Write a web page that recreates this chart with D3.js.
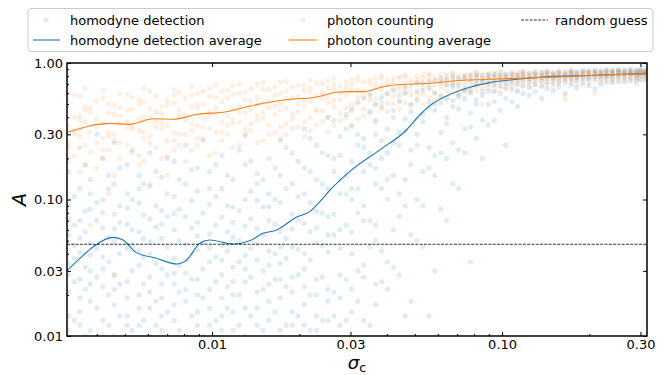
<!DOCTYPE html>
<html><head><meta charset="utf-8">
<script src="https://cdn.jsdelivr.net/npm/d3@7"></script>
<style>body{margin:0;background:#fff} svg{display:block;font-family:"DejaVu Sans",sans-serif}</style>
</head><body><svg id="c" width="667" height="375"></svg>
<script>
// ---- data ----
const sigmaGrid = [0.0032,0.0035,0.0038,0.0042,0.0046,0.0051,0.0056,0.0061,0.0067,0.0074,
  0.0081,0.0089,0.0098,0.0108,0.0118,0.013,0.0143,0.0157,0.0172,0.0189,
  0.0208,0.0229,0.0251,0.0276,0.0303,0.0333,0.0366,0.0402,0.0442,0.0485,
  0.0533,0.0586,0.0644,0.0708,0.0778,0.0855,0.094,0.103,0.113,0.124,
  0.137,0.15,0.165,0.181,0.199,0.219,0.24,0.264,0.29,0.312];
const sigmaGrid2 = [0.00335,0.00365,0.004,0.0044,0.0048,0.0053,0.0058,0.0064,0.007,0.0077,
  0.0085,0.0093,0.0103,0.0113,0.0124,0.0136,0.015,0.0165,0.018,0.0198,
  0.0218,0.024,0.0263,0.029,0.0318,0.035,0.0384,0.0422,0.0463,0.0509,
  0.056,0.0615,0.0676,0.0743,0.0816,0.0897,0.0985,0.108,0.118,0.13,
  0.143,0.157,0.173,0.19,0.209,0.229,0.252,0.277,0.3];
const homodyneA = [
 [0.011,0.014,0.021,0.028,0.034,0.055,0.072,0.09,0.16],
 [0.012,0.015,0.019,0.026,0.041,0.052,0.07,0.12,0.24],
 [0.011,0.018,0.024,0.03,0.039,0.048,0.085,0.11,0.14],
 [0.01,0.013,0.023,0.031,0.038,0.062,0.08,0.1,0.2],
 [0.01,0.017,0.022,0.028,0.05,0.061,0.078,0.13,0.26],
 [0.012,0.014,0.019,0.025,0.044,0.066,0.087,0.11,0.18],
 [0.012,0.016,0.02,0.033,0.042,0.058,0.094,0.12,0.15],
 [0.01,0.016,0.021,0.027,0.04,0.049,0.072,0.125,0.22],
 [0.011,0.014,0.019,0.024,0.031,0.052,0.066,0.083,0.145],
 [0.013,0.017,0.024,0.029,0.037,0.06,0.079,0.105,0.19],
 [0.01,0.018,0.022,0.029,0.036,0.047,0.075,0.13,0.25],
 [0.012,0.015,0.02,0.026,0.043,0.054,0.068,0.115,0.17],
 [0.012,0.016,0.022,0.035,0.044,0.056,0.092,0.12,0.16],
 [0.011,0.014,0.019,0.028,0.036,0.046,0.074,0.12,0.21],
 [0.011,0.015,0.02,0.025,0.032,0.053,0.068,0.088,0.14],
 [0.01,0.016,0.025,0.031,0.039,0.064,0.1,0.18,0.3],
 [0.012,0.016,0.021,0.036,0.047,0.061,0.098,0.13,0.155],
 [0.013,0.018,0.024,0.033,0.042,0.07,0.088,0.11,0.2],
 [0.011,0.019,0.026,0.034,0.045,0.058,0.095,0.15,0.27],
 [0.012,0.015,0.021,0.027,0.045,0.061,0.078,0.13,0.22],
 [0.012,0.017,0.023,0.031,0.04,0.067,0.11,0.17,0.33],
 [0.011,0.014,0.02,0.026,0.048,0.062,0.082,0.14,0.25],
 [0.013,0.018,0.022,0.041,0.055,0.075,0.12,0.21,0.4],
 [0.012,0.019,0.028,0.044,0.06,0.11,0.14,0.21,0.29],
 [0.015,0.022,0.04,0.058,0.1,0.12,0.19,0.35,0.45],
 [0.013,0.027,0.033,0.07,0.09,0.16,0.24,0.28,0.55],
 [0.017,0.024,0.05,0.065,0.13,0.17,0.3,0.38,0.5],
 [0.022,0.035,0.1,0.14,0.22,0.33,0.6],
 [0.028,0.075,0.11,0.25,0.31,0.52,0.58],
 [0.018,0.055,0.18,0.23,0.44,0.5,0.68],
 [0.045,0.09,0.16,0.37,0.42,0.63,0.71],
 [0.03,0.15,0.21,0.45,0.5,0.6,0.74],
 [0.07,0.2,0.36,0.4,0.55,0.7,0.76],
 [0.12,0.23,0.46,0.57,0.6,0.69,0.78],
 [0.035,0.34,0.43,0.61,0.64,0.75,0.8],
 [0.2,0.38,0.58,0.62,0.73,0.76,0.81],
 [0.38,0.52,0.62,0.69,0.74,0.79,0.82],
 [0.25,0.55,0.66,0.72,0.77,0.8,0.83],
 [0.48,0.62,0.7,0.75,0.79,0.82],
 [0.58,0.67,0.73,0.77,0.8,0.84],
 [0.55,0.68,0.74,0.78,0.81,0.84],
 [0.63,0.71,0.76,0.79,0.82,0.85],
 [0.6,0.72,0.77,0.8,0.83,0.86],
 [0.66,0.74,0.78,0.81,0.84,0.86],
 [0.68,0.75,0.79,0.82,0.85,0.87],
 [0.7,0.76,0.8,0.83,0.85,0.88],
 [0.72,0.77,0.81,0.84,0.86,0.88],
 [0.73,0.78,0.82,0.84,0.87,0.89],
 [0.74,0.79,0.82,0.85,0.87,0.89],
 [0.75,0.8,0.83,0.85,0.87,0.88]];
const homodyneA2 = [
 [0.013,0.025,0.037,0.046,0.065,0.105],
 [0.01,0.022,0.032,0.058,0.082,0.18],
 [0.016,0.027,0.044,0.07,0.095,0.3],
 [0.012,0.02,0.035,0.053,0.12,0.15],
 [0.014,0.024,0.04,0.068,0.09,0.17],
 [0.011,0.03,0.047,0.06,0.1,0.23],
 [0.013,0.024,0.038,0.052,0.077,0.13],
 [0.012,0.018,0.034,0.063,0.09,0.16],
 [0.015,0.028,0.045,0.075,0.11,0.2],
 [0.011,0.021,0.033,0.05,0.085,0.14],
 [0.014,0.026,0.04,0.062,0.098,0.165],
 [0.01,0.019,0.031,0.048,0.08,0.27],
 [0.013,0.025,0.038,0.065,0.105,0.18],
 [0.016,0.023,0.042,0.058,0.09,0.15],
 [0.012,0.02,0.035,0.05,0.083,0.23],
 [0.014,0.027,0.044,0.072,0.115,0.19],
 [0.011,0.022,0.03,0.055,0.088,0.14],
 [0.015,0.026,0.04,0.066,0.1,0.17],
 [0.012,0.023,0.037,0.052,0.12,0.24],
 [0.014,0.028,0.043,0.07,0.105,0.19],
 [0.011,0.02,0.036,0.058,0.095,0.16,0.28],
 [0.013,0.027,0.046,0.08,0.13,0.22],
 [0.014,0.021,0.055,0.078,0.16,0.2,0.38],
 [0.013,0.026,0.065,0.11,0.15,0.33,0.42],
 [0.018,0.03,0.08,0.12,0.25,0.3,0.52],
 [0.012,0.045,0.07,0.18,0.22,0.44,0.58],
 [0.025,0.042,0.12,0.2,0.27,0.48,0.56],
 [0.032,0.06,0.15,0.26,0.4,0.45,0.64],
 [0.014,0.09,0.14,0.32,0.39,0.6,0.67],
 [0.05,0.1,0.25,0.3,0.53,0.62,0.72],
 [0.014,0.17,0.24,0.47,0.52,0.66,0.73],
 [0.085,0.22,0.31,0.51,0.57,0.72,0.77],
 [0.13,0.26,0.48,0.53,0.67,0.71,0.79],
 [0.22,0.33,0.55,0.63,0.65,0.77,0.8],
 [0.28,0.5,0.54,0.68,0.72,0.79,0.82],
 [0.35,0.5,0.62,0.7,0.76,0.8,0.83],
 [0.45,0.6,0.68,0.74,0.78,0.82],
 [0.52,0.64,0.71,0.76,0.8,0.84],
 [0.6,0.68,0.74,0.78,0.82,0.85],
 [0.62,0.7,0.75,0.79,0.83,0.86],
 [0.65,0.72,0.77,0.8,0.84,0.86],
 [0.67,0.73,0.78,0.81,0.84,0.87],
 [0.69,0.75,0.79,0.82,0.85,0.87],
 [0.7,0.76,0.8,0.83,0.86,0.88],
 [0.65,0.77,0.81,0.84,0.86,0.88],
 [0.72,0.78,0.81,0.84,0.87,0.89],
 [0.73,0.79,0.82,0.85,0.87,0.89],
 [0.74,0.79,0.83,0.85,0.88,0.9],
 [0.75,0.8,0.83,0.86,0.88,0.9]];
const photonA = [
 [0.19,0.24,0.26,0.35,0.52,0.61],
 [0.16,0.29,0.33,0.38,0.41,0.57],
 [0.22,0.31,0.44,0.47,0.065],
 [0.2,0.23,0.28,0.36,0.55,0.63],
 [0.15,0.27,0.3,0.42,0.49,0.028],
 [0.25,0.34,0.37,0.45,0.59],
 [0.18,0.21,0.32,0.39,0.5,0.54],
 [0.26,0.29,0.4,0.46,0.62,0.13],
 [0.2,0.33,0.36,0.43,0.48],
 [0.23,0.27,0.31,0.51,0.58,0.64],
 [0.19,0.3,0.38,0.42,0.55],
 [0.25,0.28,0.35,0.47,0.5,0.6],
 [0.21,0.33,0.41,0.44,0.57,0.66],
 [0.27,0.31,0.37,0.52,0.62],
 [0.24,0.36,0.39,0.46,0.59,0.68],
 [0.29,0.33,0.43,0.54,0.61],
 [0.26,0.38,0.41,0.49,0.56,0.7],
 [0.3,0.35,0.47,0.52,0.64],
 [0.28,0.34,0.45,0.5,0.6,0.72],
 [0.33,0.39,0.42,0.55,0.67],
 [0.29,0.37,0.48,0.53,0.63,0.69],
 [0.35,0.44,0.46,0.58,0.71],
 [0.31,0.4,0.51,0.56,0.66,0.74],
 [0.38,0.43,0.54,0.6,0.68],
 [0.34,0.47,0.5,0.63,0.7,0.76],
 [0.41,0.46,0.57,0.62,0.73],
 [0.37,0.49,0.55,0.66,0.71,0.78],
 [0.44,0.51,0.59,0.69,0.74],
 [0.46,0.53,0.64,0.68,0.77,0.8],
 [0.49,0.58,0.62,0.72,0.76],
 [0.5,0.59,0.66,0.72,0.78,0.82],
 [0.53,0.61,0.68,0.74,0.79],
 [0.55,0.63,0.69,0.75,0.8,0.83],
 [0.57,0.65,0.71,0.76,0.81],
 [0.6,0.67,0.72,0.77,0.82,0.84],
 [0.5,0.66,0.72,0.77,0.82],
 [0.62,0.69,0.74,0.78,0.83,0.85],
 [0.64,0.7,0.75,0.79,0.83],
 [0.63,0.71,0.76,0.8,0.84,0.86],
 [0.66,0.72,0.77,0.81,0.84],
 [0.67,0.73,0.78,0.81,0.85,0.87],
 [0.68,0.74,0.78,0.82,0.85],
 [0.54,0.58,0.75,0.79,0.82,0.86],
 [0.7,0.76,0.8,0.83,0.86],
 [0.71,0.77,0.8,0.83,0.86,0.88],
 [0.72,0.77,0.81,0.84,0.87],
 [0.73,0.78,0.81,0.84,0.87,0.89],
 [0.74,0.79,0.82,0.85,0.87],
 [0.7,0.75,0.79,0.82,0.85,0.88],
 [0.76,0.8,0.83,0.86,0.88]];
const photonA2 = [
 [0.21,0.3,0.32,0.4,0.58],
 [0.18,0.25,0.37,0.45,0.48,0.65],
 [0.17,0.26,0.34,0.39,0.53],
 [0.23,0.29,0.31,0.43,0.5,0.11],
 [0.2,0.26,0.36,0.41,0.47,0.6],
 [0.22,0.33,0.35,0.46,0.56],
 [0.19,0.28,0.31,0.4,0.52,0.65],
 [0.24,0.34,0.38,0.44,0.57],
 [0.21,0.27,0.35,0.49,0.53,0.15],
 [0.25,0.3,0.41,0.45,0.61],
 [0.23,0.32,0.36,0.48,0.58,0.67],
 [0.28,0.34,0.39,0.5,0.62],
 [0.22,0.31,0.43,0.47,0.56,0.69],
 [0.3,0.35,0.41,0.55,0.63],
 [0.25,0.37,0.44,0.49,0.6,0.7],
 [0.32,0.36,0.46,0.53,0.65],
 [0.27,0.39,0.43,0.51,0.64,0.72],
 [0.31,0.42,0.48,0.59,0.67],
 [0.3,0.36,0.47,0.55,0.62,0.73],
 [0.34,0.44,0.5,0.57,0.69],
 [0.32,0.4,0.52,0.61,0.66,0.75],
 [0.37,0.45,0.55,0.6,0.71],
 [0.35,0.48,0.53,0.64,0.7,0.77],
 [0.4,0.47,0.58,0.67,0.73],
 [0.39,0.5,0.56,0.63,0.74,0.79],
 [0.43,0.54,0.6,0.7,0.75],
 [0.46,0.52,0.64,0.69,0.77,0.81],
 [0.5,0.57,0.63,0.73,0.78],
 [0.51,0.61,0.66,0.72,0.79,0.82],
 [0.55,0.6,0.7,0.74,0.8],
 [0.56,0.64,0.7,0.76,0.81,0.84],
 [0.58,0.66,0.72,0.77,0.82],
 [0.6,0.68,0.73,0.78,0.83,0.85],
 [0.62,0.69,0.74,0.79,0.83],
 [0.63,0.7,0.75,0.8,0.84,0.86],
 [0.65,0.71,0.76,0.8,0.84],
 [0.66,0.72,0.77,0.81,0.85,0.87],
 [0.67,0.73,0.78,0.82,0.85],
 [0.68,0.74,0.79,0.82,0.86,0.88],
 [0.69,0.75,0.79,0.83,0.86],
 [0.7,0.76,0.8,0.83,0.86,0.88],
 [0.71,0.76,0.8,0.84,0.87],
 [0.72,0.77,0.81,0.84,0.87,0.89],
 [0.73,0.78,0.82,0.85,0.87],
 [0.6,0.74,0.79,0.82,0.85,0.88],
 [0.75,0.79,0.83,0.86,0.88],
 [0.75,0.8,0.83,0.86,0.88,0.89],
 [0.76,0.8,0.84,0.86,0.88],
 [0.76,0.81,0.84,0.86,0.89]];
const homodyneAvgSigma = [0.00316,0.0035,0.00389,0.00456,0.00493,0.00548,0.00643,0.00754,0.00817,0.00907,0.00982,0.0118,0.0135,0.015,0.0167,0.0195,0.0217,0.0238,0.0255,0.0298,0.0379,0.0468,0.052,0.0578,0.061,0.0754,0.0907,0.1064,0.138,0.2005,0.316];
const homodyneAvgA = [0.0301,0.037,0.0451,0.0528,0.0505,0.0408,0.0371,0.0337,0.036,0.0478,0.0505,0.0472,0.0499,0.0565,0.0598,0.0741,0.0815,0.099,0.117,0.16,0.231,0.323,0.416,0.507,0.542,0.653,0.718,0.75,0.79,0.81,0.84];
const photonAvgSigma = [0.00316,0.00444,0.0052,0.00626,0.00734,0.00884,0.0112,0.0135,0.019,0.0223,0.0269,0.0298,0.0332,0.0389,0.0421,0.0563,0.0754,0.0907,0.154,0.2005,0.316];
const photonAvgA = [0.31,0.361,0.355,0.39,0.387,0.42,0.44,0.484,0.545,0.557,0.61,0.617,0.617,0.67,0.69,0.71,0.75,0.76,0.79,0.81,0.83];
const randomGuess = 0.047;
const xDomain = [0.00316, 0.316];
const yDomain = [0.01, 1.0];
const xTicks = [0.01, 0.03, 0.1, 0.3];
const yTicks = [0.01, 0.03, 0.1, 0.3, 1.0];
const xMinor = [0.004,0.005,0.006,0.007,0.008,0.009,0.02,0.04,0.05,0.06,0.07,0.08,0.09,0.2];
const yMinor = [0.02,0.04,0.05,0.06,0.07,0.08,0.09,0.2,0.4,0.5,0.6,0.7,0.8,0.9];
const legendLabels = ["homodyne detection","photon counting","random guess","homodyne detection average","photon counting average"];

// ---- drawing ----
const BLUE = "#1f77b4", ORANGE = "#ff7f0e";
const svg = d3.select("#c");
svg.append("rect").attr("width",667).attr("height",375).attr("fill","#fff");
const L=67, R=647, T=63, B=336;
const x = d3.scaleLog().domain(xDomain).range([L,R]);
const y = d3.scaleLog().domain(yDomain).range([B,T]);

svg.append("clipPath").attr("id","clip").append("rect")
  .attr("x",L).attr("y",T).attr("width",R-L).attr("height",B-T);
const plot = svg.append("g").attr("clip-path","url(#clip)");

function pts(grid, arr){ const out=[]; arr.forEach((col,i)=>col.forEach(v=>out.push([grid[i],v]))); return out; }
const homPts = pts(sigmaGrid, homodyneA).concat(pts(sigmaGrid2, homodyneA2));
const phoPts = pts(sigmaGrid, photonA).concat(pts(sigmaGrid2, photonA2));

plot.append("g").selectAll("circle").data(homPts).join("circle")
  .attr("cx",d=>x(d[0])).attr("cy",d=>y(d[1])).attr("r",2.6)
  .attr("fill",BLUE).attr("fill-opacity",0.14);
const line = d3.line().x(d=>x(d[0])).y(d=>y(d[1])).curve(d3.curveMonotoneX);
plot.append("path").datum(homodyneAvgSigma.map((s,i)=>[s,homodyneAvgA[i]]))
  .attr("d",line).attr("fill","none").attr("stroke",BLUE).attr("stroke-width",1.1);
plot.append("g").selectAll("circle").data(phoPts).join("circle")
  .attr("cx",d=>x(d[0])).attr("cy",d=>y(d[1])).attr("r",2.6)
  .attr("fill",ORANGE).attr("fill-opacity",0.12);
plot.append("path").datum(photonAvgSigma.map((s,i)=>[s,photonAvgA[i]]))
  .attr("d",line).attr("fill","none").attr("stroke",ORANGE).attr("stroke-width",1.1);
plot.append("line").attr("x1",L).attr("x2",R).attr("y1",y(randomGuess)).attr("y2",y(randomGuess))
  .attr("stroke","#000").attr("stroke-width",0.8).attr("stroke-dasharray","3,1.3");

// axes
const fmt = d3.format(".2f");
const ax = (g)=>{ g.select(".domain").remove(); g.selectAll("text").attr("font-size",13).attr("fill","#000").attr("font-family","DejaVu Sans"); g.selectAll("line").attr("stroke","#000").attr("stroke-width",1); };
svg.append("g").attr("transform",`translate(0,${B})`).call(d3.axisBottom(x).tickValues(xTicks).tickFormat(fmt).tickSize(-4).tickPadding(4)).call(ax);
svg.append("g").attr("transform",`translate(0,${B})`).call(d3.axisBottom(x).tickValues(xMinor).tickFormat("").tickSize(-2)).call(ax);
svg.append("g").attr("transform",`translate(0,${T})`).call(d3.axisTop(x).tickValues(xTicks).tickFormat("").tickSize(-4)).call(ax);
svg.append("g").attr("transform",`translate(${L},0)`).call(d3.axisLeft(y).tickValues(yTicks).tickFormat(fmt).tickSize(-4).tickPadding(4)).call(ax);
svg.append("g").attr("transform",`translate(${L},0)`).call(d3.axisLeft(y).tickValues(yMinor).tickFormat("").tickSize(-2)).call(ax);
svg.append("g").attr("transform",`translate(${R},0)`).call(d3.axisRight(y).tickValues(yTicks).tickFormat("").tickSize(-4)).call(ax);
svg.append("rect").attr("x",L).attr("y",T).attr("width",R-L).attr("height",B-T)
  .attr("fill","none").attr("stroke","#000").attr("stroke-width",1.5);

// axis labels
svg.append("text").attr("transform",`translate(20,${(T+B)/2}) rotate(-90)`)
  .attr("text-anchor","middle").attr("dominant-baseline","middle")
  .attr("font-size",19).attr("font-style","italic").text("A");
const xl = svg.append("text").attr("x",(L+R)/2).attr("y",369).attr("text-anchor","middle").attr("font-size",18);
xl.append("tspan").attr("font-style","italic").text("σ");
xl.append("tspan").attr("font-size",12.5).attr("dy",3).text("c");

// legend
const lg = svg.append("g");
lg.append("rect").attr("x",28).attr("y",8.5).attr("width",625).attr("height",43).attr("rx",3)
  .attr("fill","#fff").attr("fill-opacity",0.8).attr("stroke","#ccc").attr("stroke-width",1);
const fs = 13;
function ltext(tx,ty,s){ lg.append("text").attr("x",tx).attr("y",ty).attr("dominant-baseline","central").attr("font-size",fs).text(s); }
lg.append("circle").attr("cx",46).attr("cy",20).attr("r",2.6).attr("fill",BLUE).attr("fill-opacity",0.14);
ltext(70,20,legendLabels[0]);
lg.append("line").attr("x1",33).attr("x2",60).attr("y1",40).attr("y2",40).attr("stroke",BLUE).attr("stroke-width",1.1);
ltext(70,40,legendLabels[3]);
lg.append("circle").attr("cx",303).attr("cy",20).attr("r",2.6).attr("fill",ORANGE).attr("fill-opacity",0.12);
ltext(327,20,legendLabels[1]);
lg.append("line").attr("x1",289).attr("x2",317).attr("y1",40).attr("y2",40).attr("stroke",ORANGE).attr("stroke-width",1.1);
ltext(327,40,legendLabels[4]);
lg.append("line").attr("x1",521).attr("x2",548).attr("y1",20).attr("y2",20).attr("stroke","#000").attr("stroke-width",0.8).attr("stroke-dasharray","3,1.3");
ltext(555,20,legendLabels[2]);
</script></body></html>
